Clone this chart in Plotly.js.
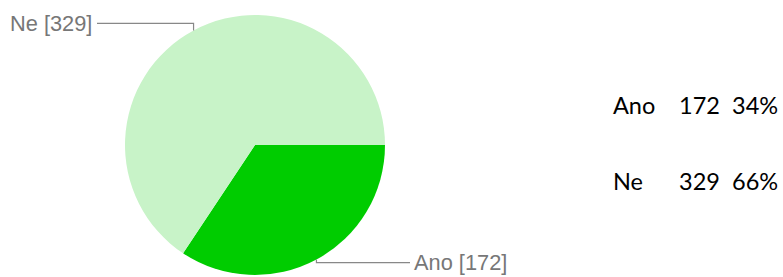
<!DOCTYPE html>
<html><head><meta charset="utf-8">
<script src="https://cdn.plot.ly/plotly-3.0.1.min.js"></script>
<style>html,body{margin:0;padding:0;background:#fff}#c{width:783px;height:277px}</style>
</head><body><div id="c"></div>
<script>
const categories = ["Ano", "Ne"];
const values = [172, 329];
const colors = ["#00cc00", "#c8f3c8"];

const W = 783, H = 277;
const cx = 255, cy = 145, R = 130;
const total = values.reduce((a, b) => a + b, 0);
const px = x => x / W, py = y => 1 - y / H;

const shapes = [], annotations = [];
// leader lines from slice mid-angles (clockwise from 3 o'clock)
let acc = 0;
const mids = values.map(v => { const m = (acc + v / 2) / total * 360; acc += v; return m; });
mids.forEach((deg, i) => {
  const t = deg * Math.PI / 180;
  const ex = cx + Math.cos(t) * R, ey = cy + Math.sin(t) * R;
  const right = Math.cos(t) > 0;
  const ly = right ? ey + 3 : ey - 7;
  const hx = right ? 410 : 97;
  shapes.push({type: "path", xref: "paper", yref: "paper",
    path: `M ${px(ex)} ${py(ey)} L ${px(ex)} ${py(ly)} L ${px(hx)} ${py(ly)}`,
    line: {color: "#888", width: 1.2}});
  annotations.push({xref: "paper", yref: "paper", x: px(right ? hx + 2 : hx - 3), y: py(ly),
    xanchor: right ? "left" : "right", yanchor: "middle", showarrow: false,
    text: `${categories[i]} [${values[i]}]`,
    font: {family: "Liberation Sans, Arial", size: 21.8, color: "#777"}});
});
// right-side summary table
categories.forEach((c, i) => {
  const y = py(105 + i * 76);
  const f = {family: "Lato, Noto Sans, sans-serif", size: 23.5, color: "#000"};
  const pct = Math.round(values[i] / total * 100) + "%";
  annotations.push({xref: "paper", yref: "paper", x: px(611), y, xanchor: "left", yanchor: "middle", showarrow: false, text: c, font: f});
  annotations.push({xref: "paper", yref: "paper", x: px(677), y, xanchor: "left", yanchor: "middle", showarrow: false, text: String(values[i]), font: f});
  annotations.push({xref: "paper", yref: "paper", x: px(730), y, xanchor: "left", yanchor: "middle", showarrow: false, text: pct, font: f});
});

Plotly.newPlot("c", [{
  type: "pie", labels: categories, values: values, sort: false,
  direction: "clockwise", rotation: 90,
  marker: {colors: colors, line: {width: 0}},
  textinfo: "none", hoverinfo: "label+value",
  domain: {x: [px(cx - R), px(cx + R)], y: [py(cy + R), py(cy - R)]}
}], {
  width: W, height: H, margin: {l: 0, r: 0, t: 0, b: 0},
  showlegend: false, paper_bgcolor: "#fff",
  shapes, annotations
}, {staticPlot: true});
</script></body></html>
